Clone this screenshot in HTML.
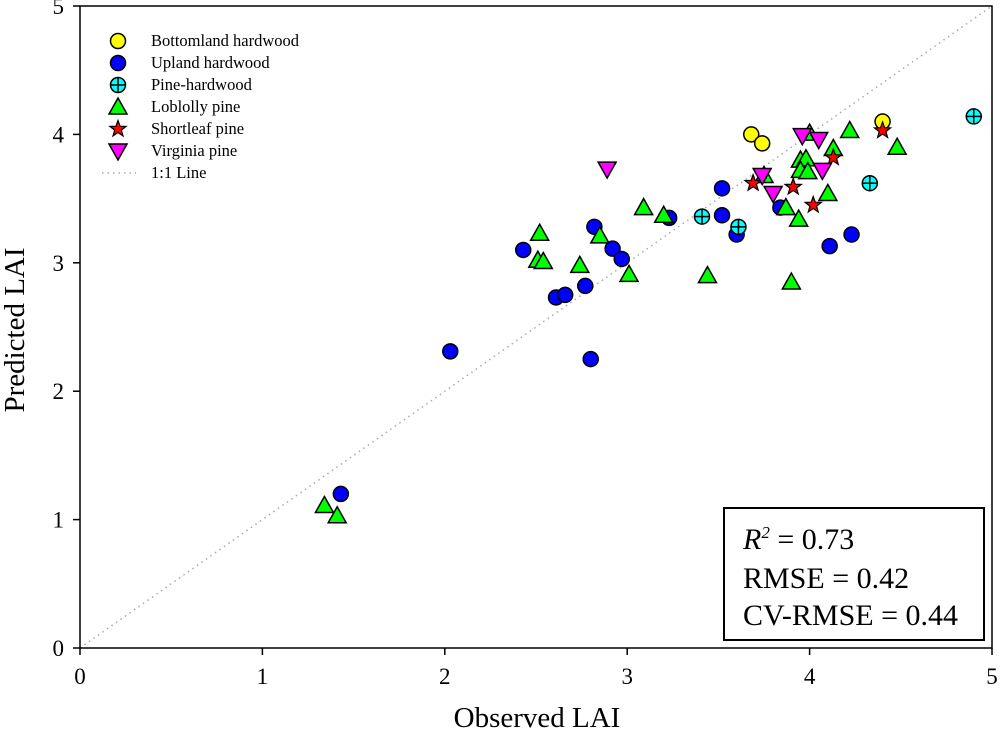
<!DOCTYPE html>
<html><head><meta charset="utf-8"><style>
body{margin:0;background:#fff}
svg text{font-family:"Liberation Serif",serif}
</style></head><body>
<svg id="chart" width="1000" height="742" viewBox="0 0 1000 742" xmlns="http://www.w3.org/2000/svg">
<g id="plot"></g>
</svg>
<script>
const xTicks=[0,1,2,3,4,5];
const yTicks=[0,1,2,3,4,5];
const bottomlandX=[3.68,3.74,4.40];
const bottomlandY=[4.00,3.93,4.10];
const uplandX=[1.43,2.03,2.43,2.82,2.92,2.97,2.77,2.61,2.66,2.80,3.23,3.52,3.52,3.60,3.84,4.11,4.23];
const uplandY=[1.20,2.31,3.10,3.28,3.11,3.03,2.82,2.73,2.75,2.25,3.35,3.58,3.37,3.22,3.43,3.13,3.22];
const pineHwX=[3.41,3.61,4.33,4.90];
const pineHwY=[3.36,3.28,3.62,4.14];
const loblollyX=[1.34,1.41,2.52,2.51,2.54,2.74,2.85,3.01,3.09,3.20,3.44,3.90,3.94,3.87,4.10,4.22,4.48,4.13,3.95,3.98,3.95,3.99,4.00,3.75];
const loblollyY=[1.11,1.03,3.23,3.02,3.01,2.98,3.21,2.91,3.43,3.37,2.90,2.85,3.34,3.43,3.54,4.03,3.90,3.89,3.80,3.81,3.72,3.71,4.01,3.68];
const shortleafX=[3.69,3.91,4.02,4.13,4.40];
const shortleafY=[3.62,3.59,3.45,3.82,4.03];
const virginiaX=[2.89,3.74,3.80,3.96,4.05,4.07];
const virginiaY=[3.73,3.68,3.54,3.99,3.96,3.72];

const L=80,R=992,T=6,B=648;
const sx=v=>L+(v/5)*(R-L);
const sy=v=>B-(v/5)*(B-T);
const NS="http://www.w3.org/2000/svg";
const g=document.getElementById('plot');
function mk(tag,attrs,parent){const e=document.createElementNS(NS,tag);for(const k in attrs)e.setAttribute(k,attrs[k]);(parent||g).appendChild(e);return e;}

let ln=mk('line',{x1:sx(0),y1:sy(0),x2:sx(5),y2:sy(5),stroke:'#aaa','stroke-width':1.5,'stroke-dasharray':'1.5 4'});



function circle(x,y,fill,parent){const c=mk('circle',{cx:x,cy:y,r:7.5,fill:fill,stroke:'#000','stroke-width':1.5},parent);return c;}
function cross(x,y,parent){const gg=mk('g',{},parent);circle(x,y,'#00ffff',gg);mk('line',{x1:x-7.5,y1:y,x2:x+7.5,y2:y,stroke:'#000','stroke-width':1.5},gg);mk('line',{x1:x,y1:y-7.5,x2:x,y2:y+7.5,stroke:'#000','stroke-width':1.5},gg);return gg;}
function tri(x,y,parent){return mk('polygon',{points:`${x},${y-9} ${x+9},${y+7} ${x-9},${y+7}`,fill:'#00ff00',stroke:'#000','stroke-width':1.5},parent);}
function itri(x,y,parent){return mk('polygon',{points:`${x},${y+9} ${x+9},${y-7} ${x-9},${y-7}`,fill:'#ff00ff',stroke:'#000','stroke-width':1.5},parent);}
function star(x,y,parent){let p=[];for(let i=0;i<10;i++){const r=i%2?3.5:8.5;const a=-Math.PI/2+i*Math.PI/5;p.push((x+r*Math.cos(a)).toFixed(1)+','+(y+r*Math.sin(a)).toFixed(1));}return mk('polygon',{points:p.join(' '),fill:'#ff0000',stroke:'#000','stroke-width':1.2},parent);}

const series=[
 ['bottomland-hardwood',bottomlandX,bottomlandY,(x,y,p)=>circle(x,y,'#ffff00',p)],
 ['upland-hardwood',uplandX,uplandY,(x,y,p)=>circle(x,y,'#0000ff',p)],
 ['pine-hardwood',pineHwX,pineHwY,cross],
 ['loblolly-pine',loblollyX,loblollyY,tri],
 ['shortleaf-pine',shortleafX,shortleafY,star],
 ['virginia-pine',virginiaX,virginiaY,itri]
];
series.forEach(s=>{
 const sg=mk('g',{});
 
 
 s[1].forEach((v,i)=>{
  const m=s[3](sx(v),sy(s[2][i]),sg);
  
  
 });
});

let fr=mk('rect',{x:L,y:T,width:R-L,height:B-T,fill:'none',stroke:'#000','stroke-width':1.5});



xTicks.forEach(t=>{
 mk('line',{x1:sx(t),y1:B,x2:sx(t),y2:B+7,stroke:'#000','stroke-width':1.5});
 const tx=mk('text',{x:sx(t),y:B+36,'font-size':23,'text-anchor':'middle'});tx.textContent=t;
 
 
});
yTicks.forEach(t=>{
 mk('line',{x1:L-7,y1:sy(t),x2:L,y2:sy(t),stroke:'#000','stroke-width':1.5});
 const tx=mk('text',{x:L-16,y:sy(t)+8,'font-size':23,'text-anchor':'end'});tx.textContent=t;
 
 
});
let xt=mk('text',{x:537,y:727,'font-size':29,'text-anchor':'middle'});xt.textContent='Observed LAI';


let yt=mk('text',{x:0,y:0,'font-size':29,'text-anchor':'middle',transform:'translate(24,330) rotate(-90)'});yt.textContent='Predicted LAI';



const legNames=['Bottomland hardwood','Upland hardwood','Pine-hardwood','Loblolly pine','Shortleaf pine','Virginia pine'];
const lg=mk('g',{});


legNames.forEach((n,i)=>{
 const y=41+i*22;
 const eg=mk('g',{},lg);
 
 
 series[i][3](118,y,eg);
 const t=mk('text',{x:151,y:y+5,'font-size':16.5},eg);t.textContent=n;
});
{const y=41+6*22;const eg=mk('g',{},lg);
 
 
 mk('line',{x1:102,y1:y,x2:136,y2:y,stroke:'#aaa','stroke-width':1.5,'stroke-dasharray':'1.5 4'},eg);
 const t=mk('text',{x:151,y:y+5,'font-size':16.5},eg);t.textContent='1:1 Line';}

const sb=mk('g',{});


mk('rect',{x:724,y:508,width:260,height:132,fill:'#fff',stroke:'#000','stroke-width':2},sb);
let s1=mk('text',{x:743,y:549,'font-size':30},sb);
s1.innerHTML='<tspan font-style="italic">R</tspan><tspan font-style="italic" font-size="17" dy="-11">2</tspan><tspan dy="11"> = 0.73</tspan>';
let s2=mk('text',{x:743,y:588,'font-size':30},sb);s2.textContent='RMSE = 0.42';
let s3=mk('text',{x:743,y:625,'font-size':30},sb);s3.textContent='CV-RMSE = 0.44';
</script>
</body></html>
